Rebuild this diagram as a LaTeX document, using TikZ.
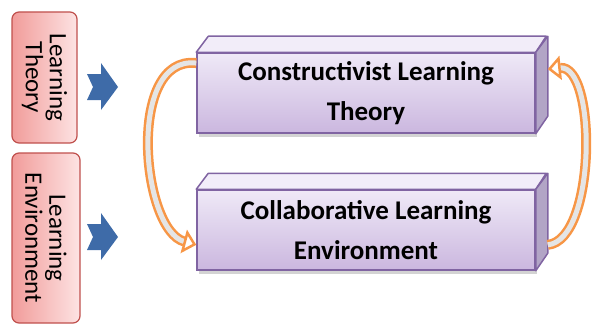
\documentclass[tikz,border=0pt]{standalone}
\usepackage{fontspec}
\setmainfont{Carlito}
\usetikzlibrary{arrows.meta,shadows}

\definecolor{pinkdark}{HTML}{F19C9A}
\definecolor{pinklight}{HTML}{FDE3E3}
\definecolor{pinkline}{HTML}{C0504D}
\definecolor{lilactop}{HTML}{EFE9F7}
\definecolor{lilacbot}{HTML}{CBB7DF}
\definecolor{lilacline}{HTML}{8064A2}
\definecolor{lilacside}{HTML}{B2A5C6}
\definecolor{arrowblue}{HTML}{3E6BA8}
\definecolor{loopline}{HTML}{F79646}

\begin{document}
\begin{tikzpicture}[x=1pt,y=-1pt,
  pinkbox/.style={draw=pinkline,line width=1.2pt,rounded corners=7pt,rotate=-90,
    left color=pinkdark,right color=pinklight,align=center,
    font=\fontsize{25}{24}\selectfont,inner sep=0pt},
  frontface/.style={draw=lilacline,line width=1.5pt,top color=lilactop,bottom color=lilacbot,
    minimum width=338pt,minimum height=80pt,align=center,
    font=\bfseries\fontsize{27}{40}\selectfont,
    drop shadow={shadow xshift=2pt,shadow yshift=-4pt,opacity=0.35}},
  topface/.style={draw=lilacline,line width=1.5pt,fill=lilactop!80!white,line join=round},
  sideface/.style={draw=lilacline,line width=1.5pt,fill=lilacside,line join=round},
  bluemark/.style={fill=arrowblue},
  cyclearrow/.style={draw=loopline,line width=2.5pt,double=gray!20,double distance=5pt,
    -{Triangle[open,length=13pt,width=24pt]}}]
\useasboundingbox (0,0) rectangle (593,329);

% left labels
\node [pinkbox,minimum width=131pt,minimum height=65pt] (lt) at (44.5,77.5) {Learning\\Theory};
\node [pinkbox,minimum width=170pt,minimum height=68pt] (le) at (46,238) {Learning\\Environment};

% blue pointers
\fill [bluemark] (87,74) -- (101,74) -- (101,63) -- (118,87) -- (101,110) -- (101,100) -- (87,100) -- (93,87) -- cycle;
\fill [bluemark] (87,224) -- (101,224) -- (101,213) -- (118,237) -- (101,260) -- (101,250) -- (87,250) -- (93,237) -- cycle;

% boxes
\node [frontface] (cons) at (366,93) {Constructivist Learning\\Theory};
\draw [topface] (cons.north west) -- ++(12,-16) -- ++(338,0) -- (cons.north east) -- cycle;
\draw [sideface] (cons.north east) -- ++(12,-16) -- ++(0,80) -- (cons.south east) -- cycle;

\node [frontface] (collab) at (366,230) {Collaborative Learning\\Environment};
\draw [topface] (collab.north west) -- ++(12,-16) -- ++(338,0) -- (collab.north east) -- cycle;
\draw [sideface] (collab.north east) -- ++(12,-16) -- ++(0,80) -- (collab.south east) -- cycle;

% cycle arrows
\draw [cyclearrow] (cons.170) .. controls +(-70,-8) and +(-55,-15) .. (collab.185);
\draw [cyclearrow] ([xshift=12pt]collab.355) .. controls +(49,-5) and +(49,-5) .. ([xshift=12pt]cons.8);
\end{tikzpicture}
\end{document}
